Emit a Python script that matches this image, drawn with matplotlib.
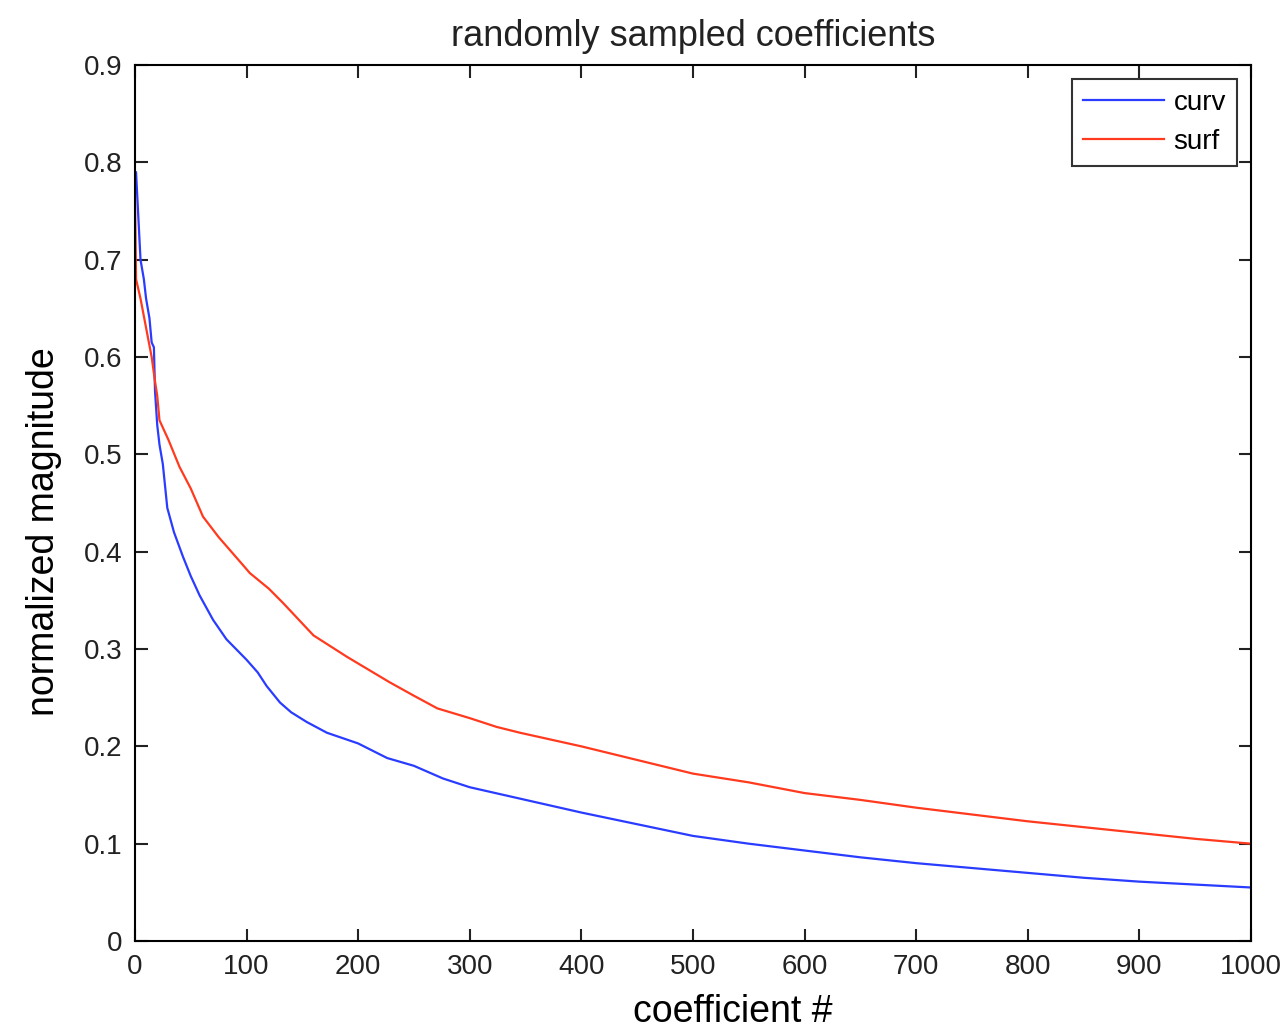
import numpy as np
import matplotlib.pyplot as plt

plt.rcParams['font.family'] = ['Liberation Sans', 'DejaVu Sans']

# valores (coeficiente #, magnitude normalizada)
curv_x = [0, 1, 3, 5, 8, 10, 13, 15, 17, 18, 20, 22, 25, 29, 35, 43, 50, 58, 70,
          82, 100, 110, 118, 130, 140, 154, 172, 200, 226, 250, 276, 300, 350, 400,
          450, 500, 550, 600, 650, 700, 750, 800, 850, 900, 950, 1000]
curv_y = [0.79, 0.79, 0.745, 0.70, 0.68, 0.66, 0.64, 0.615, 0.61, 0.565, 0.53, 0.51,
          0.49, 0.445, 0.42, 0.395, 0.375, 0.355, 0.33, 0.31, 0.289, 0.276, 0.262,
          0.245, 0.235, 0.225, 0.214, 0.203, 0.188, 0.18, 0.167, 0.158, 0.145, 0.132,
          0.12, 0.108, 0.10, 0.093, 0.086, 0.080, 0.075, 0.070, 0.065, 0.061, 0.058,
          0.055]

surf_x = [0, 1, 5, 10, 15, 18, 20, 22, 30, 40, 50, 61, 75, 97, 103, 120, 133, 160,
          190, 228, 250, 271, 300, 324, 345, 400, 450, 500, 550, 600, 650, 700, 750,
          800, 850, 900, 950, 1000]
surf_y = [0.77, 0.68, 0.66, 0.63, 0.60, 0.575, 0.56, 0.535, 0.515, 0.487, 0.465,
          0.436, 0.415, 0.386, 0.378, 0.362, 0.347, 0.314, 0.292, 0.266, 0.252, 0.239,
          0.229, 0.22, 0.214, 0.2, 0.186, 0.172, 0.163, 0.152, 0.145, 0.137, 0.130,
          0.123, 0.117, 0.111, 0.105, 0.100]

fig = plt.figure(figsize=(12.85, 10.29), dpi=100)
ax = fig.add_axes([0.105, 0.0855, 0.8685, 0.8513])

ax.plot(curv_x, curv_y, color='#2a3cff', lw=1.6, label='curv')
ax.plot(surf_x, surf_y, color='#ff3a1e', lw=1.6, label='surf')

ax.set_xlim(0, 1000)
ax.set_ylim(0, 0.9)
ax.set_xticks(np.arange(0, 1001, 100))
ax.set_yticks(np.arange(0, 0.91, 0.1))
ax.set_yticklabels(['0', '0.1', '0.2', '0.3', '0.4', '0.5', '0.6', '0.7', '0.8', '0.9'])
ax.tick_params(direction='in', length=9, width=1.5, top=True, right=True,
               labelsize=20, colors='#222222', pad=9)
for s in ax.spines.values():
    s.set_linewidth(1.5)

ax.set_title('randomly sampled coefficients', fontsize=26, color='#222222', pad=14)
ax.set_xlabel('coefficient #', fontsize=27, labelpad=8)
ax.xaxis.set_label_coords(0.536, -0.06)
ax.set_ylabel('normalized magnitude', fontsize=27, labelpad=16)
ax.yaxis.set_label_coords(-0.065, 0.467)

leg = ax.legend(loc='upper right', fontsize=20, fancybox=False, edgecolor='black',
                handlelength=2.9, borderaxespad=0.5, labelspacing=0.45,
                handletextpad=0.35)
leg.get_frame().set_linewidth(1.5)

fig.savefig('out.png', dpi=100)
